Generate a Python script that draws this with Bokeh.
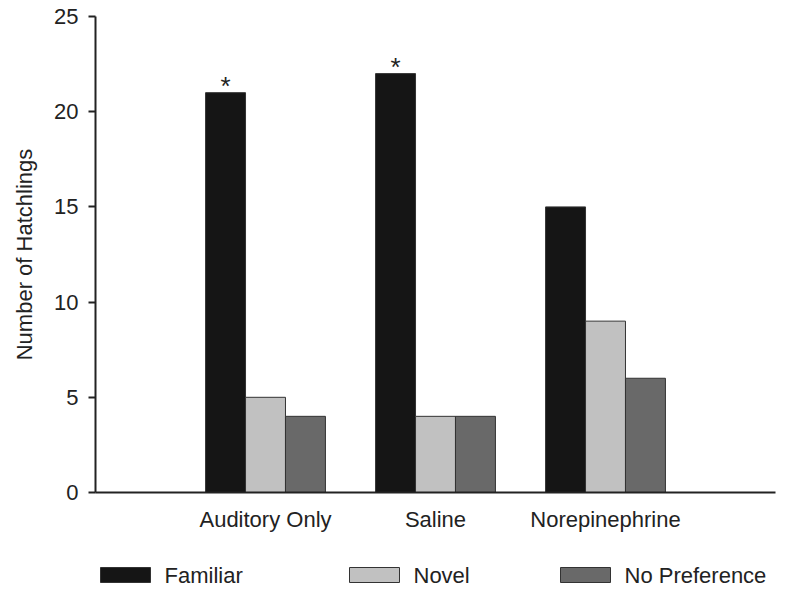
from bokeh.plotting import figure
from bokeh.layouts import column
from bokeh.models import FixedTicker, ColumnDataSource, Range1d
from bokeh.core.properties import value
from bokeh.embed import file_html
from bokeh.resources import INLINE

# ---- data ----
groups = ["Auditory Only", "Saline", "Norepinephrine"]
familiar = [21, 22, 15]
novel = [5, 4, 9]
no_pref = [4, 4, 6]
significant = [True, True, False]
series_names = ["Familiar", "Novel", "No Preference"]
y_ticks = [0, 5, 10, 15, 20, 25]

# ---- style ----
FONT = "Liberation Sans"
TXT = "#222222"
colors = ["#151515", "#c1c1c1", "#696969"]
bar_w = 0.235
offsets = [-bar_w, 0.0, bar_w]
centers = [i + 1 for i in range(len(groups))]
W = 781
BL, BR = 95, 6  # left / right borders (frame spans 95..775 px)

p = figure(width=W, height=540, x_range=Range1d(0, 4), y_range=Range1d(0, 25),
           output_backend="svg", toolbar_location=None,
           min_border_left=BL, min_border_right=BR, min_border_top=16, min_border_bottom=48)
p.xgrid.visible = False
p.ygrid.visible = False
p.outline_line_color = None

renderers = []
for vals, off, col in zip([familiar, novel, no_pref], offsets, colors):
    src = ColumnDataSource(dict(x=[c + off for c in centers], top=vals))
    r = p.vbar(x="x", top="top", width=bar_w, bottom=0, source=src,
               fill_color=col, line_color="#333333", line_width=1)
    renderers.append(r)

# significance asterisks
ax = [c + offsets[0] for c, s in zip(centers, significant) if s]
ay = [v for v, s in zip(familiar, significant) if s]
p.text(x=ax, y=ay, text=["*"] * len(ax), text_align="center", text_baseline="alphabetic",
       y_offset=-7, text_font_size="26px", text_font=value(FONT), text_color=TXT)

# y axis
ya = p.yaxis[0]
ya.ticker = FixedTicker(ticks=y_ticks)
ya.axis_label = "Number of Hatchlings"
ya.axis_label_text_font = FONT
ya.axis_label_text_font_size = "22px"
ya.axis_label_text_font_style = "normal"
ya.axis_label_text_color = TXT
ya.axis_label_standoff = 14
ya.major_label_text_font = FONT
ya.major_label_text_font_size = "22px"
ya.major_label_text_color = TXT
ya.major_label_standoff = 10
ya.major_tick_out = 7
ya.major_tick_in = 0
ya.minor_tick_out = 0
ya.minor_tick_in = 0
ya.axis_line_width = 2
ya.axis_line_color = TXT
ya.major_tick_line_width = 2
ya.major_tick_line_color = TXT

# x axis
xa = p.xaxis[0]
xa.ticker = FixedTicker(ticks=centers)
xa.major_label_overrides = {c: g for c, g in zip(centers, groups)}
xa.major_label_text_font = FONT
xa.major_label_text_font_size = "22px"
xa.major_label_text_color = TXT
xa.major_label_standoff = 14
xa.major_tick_out = 0
xa.major_tick_in = 0
xa.minor_tick_out = 0
xa.minor_tick_in = 0
xa.axis_line_width = 2
xa.axis_line_color = TXT

# legend as its own small panel; its frame is aligned with the main frame,
# so its x range is expressed in page pixels (95..775)
LH = 48
lg = figure(width=W, height=LH, x_range=Range1d(BL, W - BR), y_range=Range1d(0, LH),
            output_backend="svg", toolbar_location=None,
            x_axis_location=None, y_axis_location=None,
            min_border_left=BL, min_border_right=BR, min_border_top=0, min_border_bottom=0)
lg.xgrid.visible = False
lg.ygrid.visible = False
lg.outline_line_color = None
box_left = [100, 349, 560]
box_w, box_h, standoff = 50, 15, 14
row_y = 13.5
lsrc = ColumnDataSource(dict(
    x=[b + box_w / 2 for b in box_left], y=[row_y] * 3, color=colors,
    tx=[b + box_w + standoff for b in box_left], label=series_names))
lg.rect(x="x", y="y", width=box_w, height=box_h, fill_color="color",
        line_color="#333333", line_width=1, source=lsrc)
lg.text(x="tx", y="y", text="label", text_baseline="middle", text_align="left",
        text_font=value(FONT), text_font_size="22px", text_color=TXT, source=lsrc)

layout = column(p, lg, spacing=0)
open("out.html", "w").write(file_html(layout, INLINE))
